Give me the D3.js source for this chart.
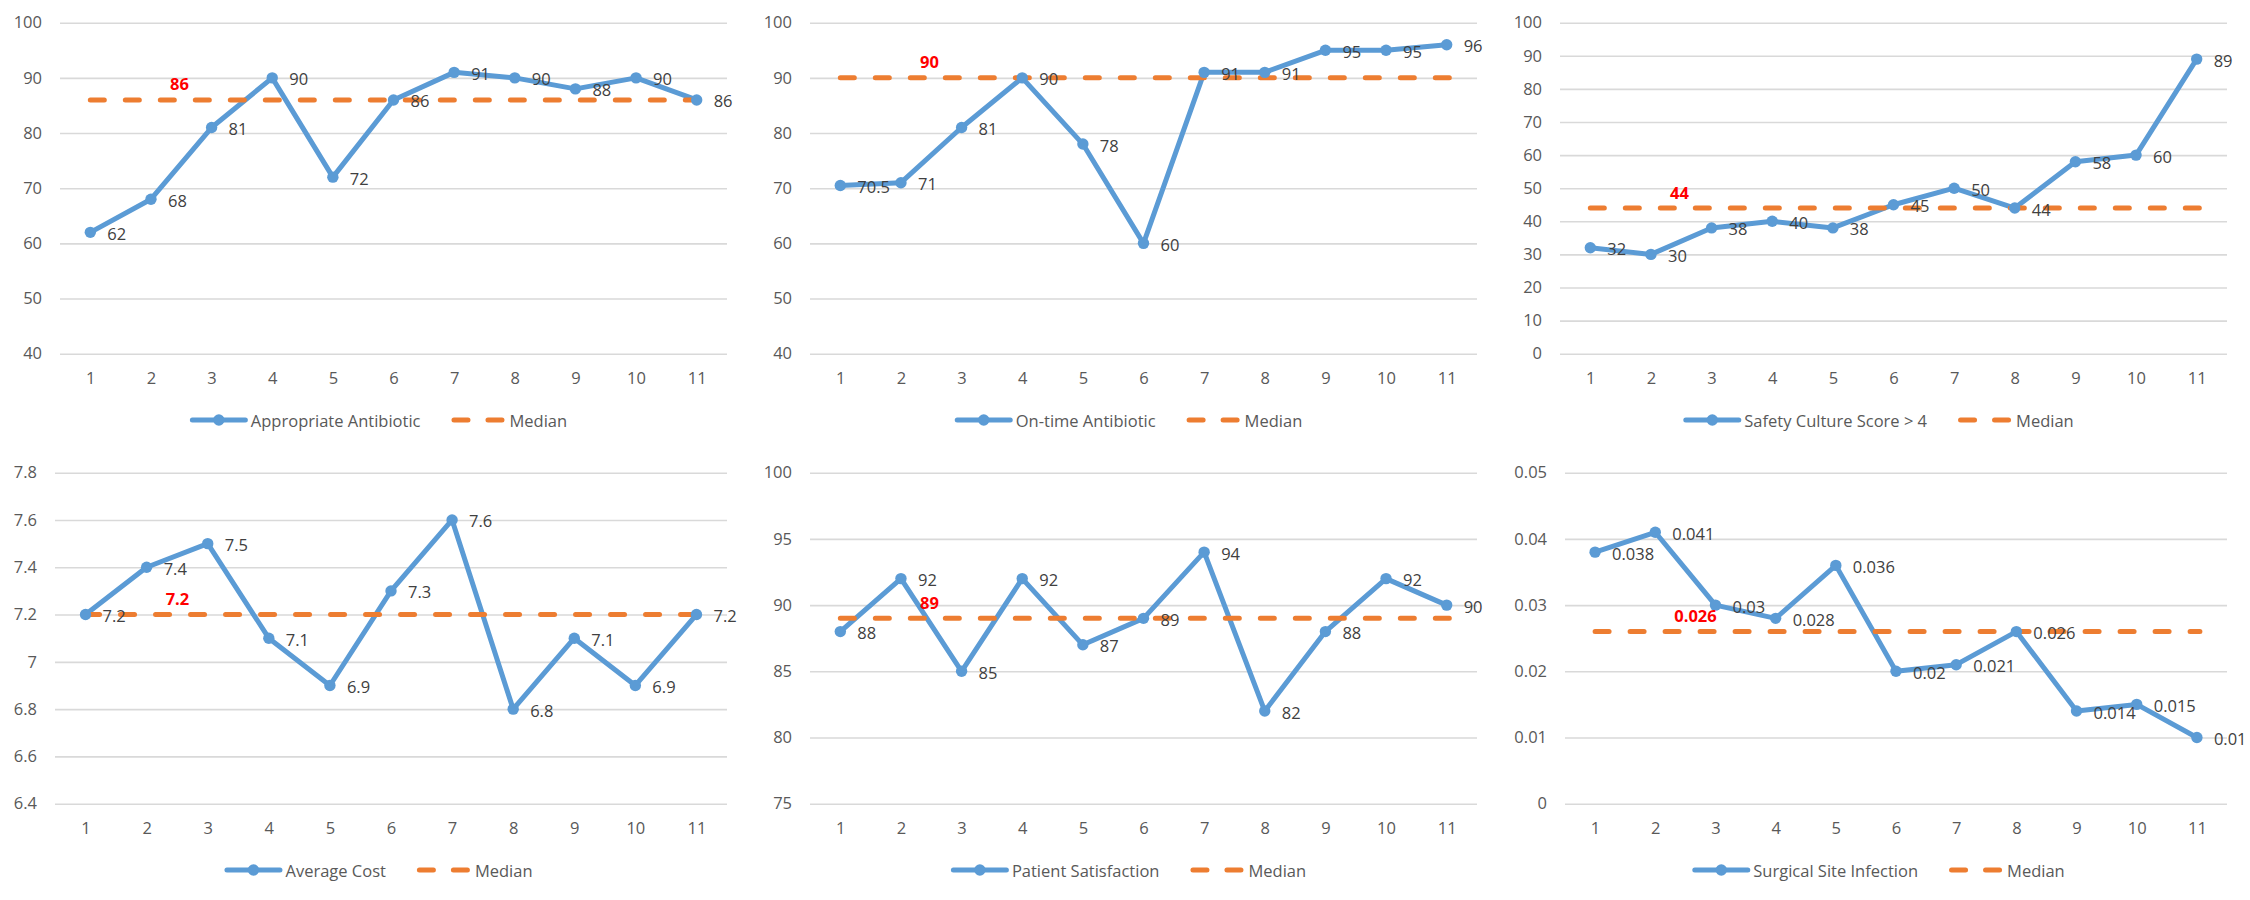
<!DOCTYPE html>
<html>
<head>
<meta charset="utf-8">
<script src="https://cdn.jsdelivr.net/npm/d3@7"></script>
<style>
  html, body { margin: 0; padding: 0; background: #ffffff; }
  svg { display: block; }
  text { font-family: "Open Sans", "Noto Sans", sans-serif; }
</style>
</head>
<body>
<svg id="chart" width="2250" height="900"></svg>
<script>
// ---------------- DATA ----------------
const categories = [1, 2, 3, 4, 5, 6, 7, 8, 9, 10, 11];

const seriesNames = [
  "Appropriate Antibiotic",
  "On-time Antibiotic",
  "Safety Culture Score > 4",
  "Average Cost",
  "Patient Satisfaction",
  "Surgical Site Infection"
];

const appropriateAntibiotic = [62, 68, 81, 90, 72, 86, 91, 90, 88, 90, 86];
const onTimeAntibiotic      = [70.5, 71, 81, 90, 78, 60, 91, 91, 95, 95, 96];
const safetyCulture         = [32, 30, 38, 40, 38, 45, 50, 44, 58, 60, 89];
const averageCost           = [7.2, 7.4, 7.5, 7.1, 6.9, 7.3, 7.6, 6.8, 7.1, 6.9, 7.2];
const patientSatisfaction   = [88, 92, 85, 92, 87, 89, 94, 82, 88, 92, 90];
const surgicalSiteInfection = [0.038, 0.041, 0.03, 0.028, 0.036, 0.02, 0.021, 0.026, 0.014, 0.015, 0.01];

const medians = [86, 90, 44, 7.2, 89, 0.026];
const medianName = "Median";

const yTicksAppropriate  = [40, 50, 60, 70, 80, 90, 100];
const yTicksOnTime       = [40, 50, 60, 70, 80, 90, 100];
const yTicksSafety       = [0, 10, 20, 30, 40, 50, 60, 70, 80, 90, 100];
const yTicksCost         = [6.4, 6.6, 6.8, 7, 7.2, 7.4, 7.6, 7.8];
const yTicksSatisfaction = [75, 80, 85, 90, 95, 100];
const yTicksInfection    = [0, 0.01, 0.02, 0.03, 0.04, 0.05];

const seriesValues = [appropriateAntibiotic, onTimeAntibiotic, safetyCulture,
                      averageCost, patientSatisfaction, surgicalSiteInfection];
const seriesTicks = [yTicksAppropriate, yTicksOnTime, yTicksSafety,
                     yTicksCost, yTicksSatisfaction, yTicksInfection];

// ---------------- LAYOUT / STYLE ----------------
const panelW = 750, panelH = 450;
const plotLefts = [60, 60, 60, 55, 60, 65];
const plotRight = 727;
const plotTop = 22.7, plotBottom = 353.7;
const blue = "#5B9BD5", orange = "#ED7D31";
const axisText = "#595959", labelText = "#404040", gridColor = "#D9D9D9";
const fontSize = 16.5;
const lineW = 5, markerR = 5.7;

const svg = d3.select("#chart");
svg.append("rect").attr("width", 2250).attr("height", 900).attr("fill", "#fff");

seriesNames.forEach((name, i) => {
  const col = i % 3, row = Math.floor(i / 3);
  const values = seriesValues[i];
  const ticks = seriesTicks[i];
  const left = plotLefts[i];
  const g = svg.append("g").attr("transform", `translate(${col * panelW},${row * panelH})`);

  const x = d3.scalePoint().domain(categories).range([left, plotRight]).padding(0.5);
  const y = d3.scaleLinear().domain(d3.extent(ticks)).range([plotBottom, plotTop]);

  // Y axis with gridlines
  const yAxis = g.append("g").attr("transform", `translate(${left},0)`)
    .call(d3.axisLeft(y).tickValues(ticks).tickSize(-(plotRight - left)).tickPadding(18)
      .tickFormat(d => String(d)));
  yAxis.select(".domain").remove();
  yAxis.selectAll(".tick line").attr("stroke", gridColor).attr("stroke-width", 1.6);
  yAxis.selectAll(".tick text").attr("fill", axisText).attr("font-size", fontSize)
    .attr("font-family", '"Open Sans", sans-serif');

  // X axis
  const xAxis = g.append("g").attr("transform", `translate(0,${plotBottom})`)
    .call(d3.axisBottom(x).tickSize(0).tickPadding(18.3).tickFormat(d => String(d)));
  xAxis.select(".domain").remove();
  xAxis.selectAll(".tick text").attr("fill", axisText).attr("font-size", fontSize)
    .attr("font-family", '"Open Sans", sans-serif');

  const pts = categories.map((c, k) => ({ c, v: values[k] }));

  // Main line
  g.append("path").datum(pts)
    .attr("d", d3.line().x(d => x(d.c)).y(d => y(d.v)))
    .attr("fill", "none").attr("stroke", blue).attr("stroke-width", lineW)
    .attr("stroke-linejoin", "round").attr("stroke-linecap", "round");

  // Median line
  const med = medians[i];
  g.append("line")
    .attr("x1", x(categories[0])).attr("x2", x(categories[categories.length - 1]) + 3)
    .attr("y1", y(med)).attr("y2", y(med))
    .attr("stroke", orange).attr("stroke-width", lineW)
    .attr("stroke-linecap", "round").attr("stroke-dasharray", "14 21");

  // Markers
  g.selectAll("circle.pt").data(pts).enter().append("circle")
    .attr("class", "pt")
    .attr("cx", d => x(d.c)).attr("cy", d => y(d.v)).attr("r", markerR)
    .attr("fill", blue);

  // Data labels
  g.selectAll("text.dl").data(pts).enter().append("text")
    .attr("class", "dl")
    .attr("x", d => x(d.c) + 17).attr("y", d => y(d.v) + 1)
    .attr("dominant-baseline", "central")
    .attr("font-size", fontSize).attr("fill", labelText)
    .text(d => String(d.v));

  // Median label
  g.append("text")
    .attr("x", x(categories[1]) + 19).attr("y", y(med) - 16)
    .attr("dominant-baseline", "central")
    .attr("font-size", fontSize).attr("font-weight", "bold").attr("fill", "#FF0000")
    .text(String(med));

  // Legend
  const legendCenter = 378.5, legendY = 420;
  const lg = g.append("g");
  const t1 = lg.append("text").attr("font-size", fontSize).attr("fill", axisText)
    .attr("dominant-baseline", "central").attr("y", legendY).text(name);
  const t2 = lg.append("text").attr("font-size", fontSize).attr("fill", axisText)
    .attr("dominant-baseline", "central").attr("y", legendY).text(medianName);
  const w1 = t1.node().getComputedTextLength();
  const w2 = t2.node().getComputedTextLength();
  const sym = 58, gapText = 3, gapItem = 28;
  const total = sym + gapText + w1 + gapItem + sym + gapText + w2;
  let sx = legendCenter - total / 2;
  lg.append("line").attr("x1", sx + 2.5).attr("x2", sx + sym - 2.5)
    .attr("y1", legendY).attr("y2", legendY)
    .attr("stroke", blue).attr("stroke-width", lineW).attr("stroke-linecap", "round");
  lg.append("circle").attr("cx", sx + sym / 2).attr("cy", legendY).attr("r", markerR).attr("fill", blue);
  t1.attr("x", sx + sym + gapText);
  sx = sx + sym + gapText + w1 + gapItem;
  [[5.5, 19.5], [39.5, 53.5]].forEach(([a, b]) => {
    lg.append("line").attr("x1", sx + a).attr("x2", sx + b)
      .attr("y1", legendY).attr("y2", legendY)
      .attr("stroke", orange).attr("stroke-width", lineW).attr("stroke-linecap", "round");
  });
  t2.attr("x", sx + sym + gapText);
});
</script>
</body>
</html>
